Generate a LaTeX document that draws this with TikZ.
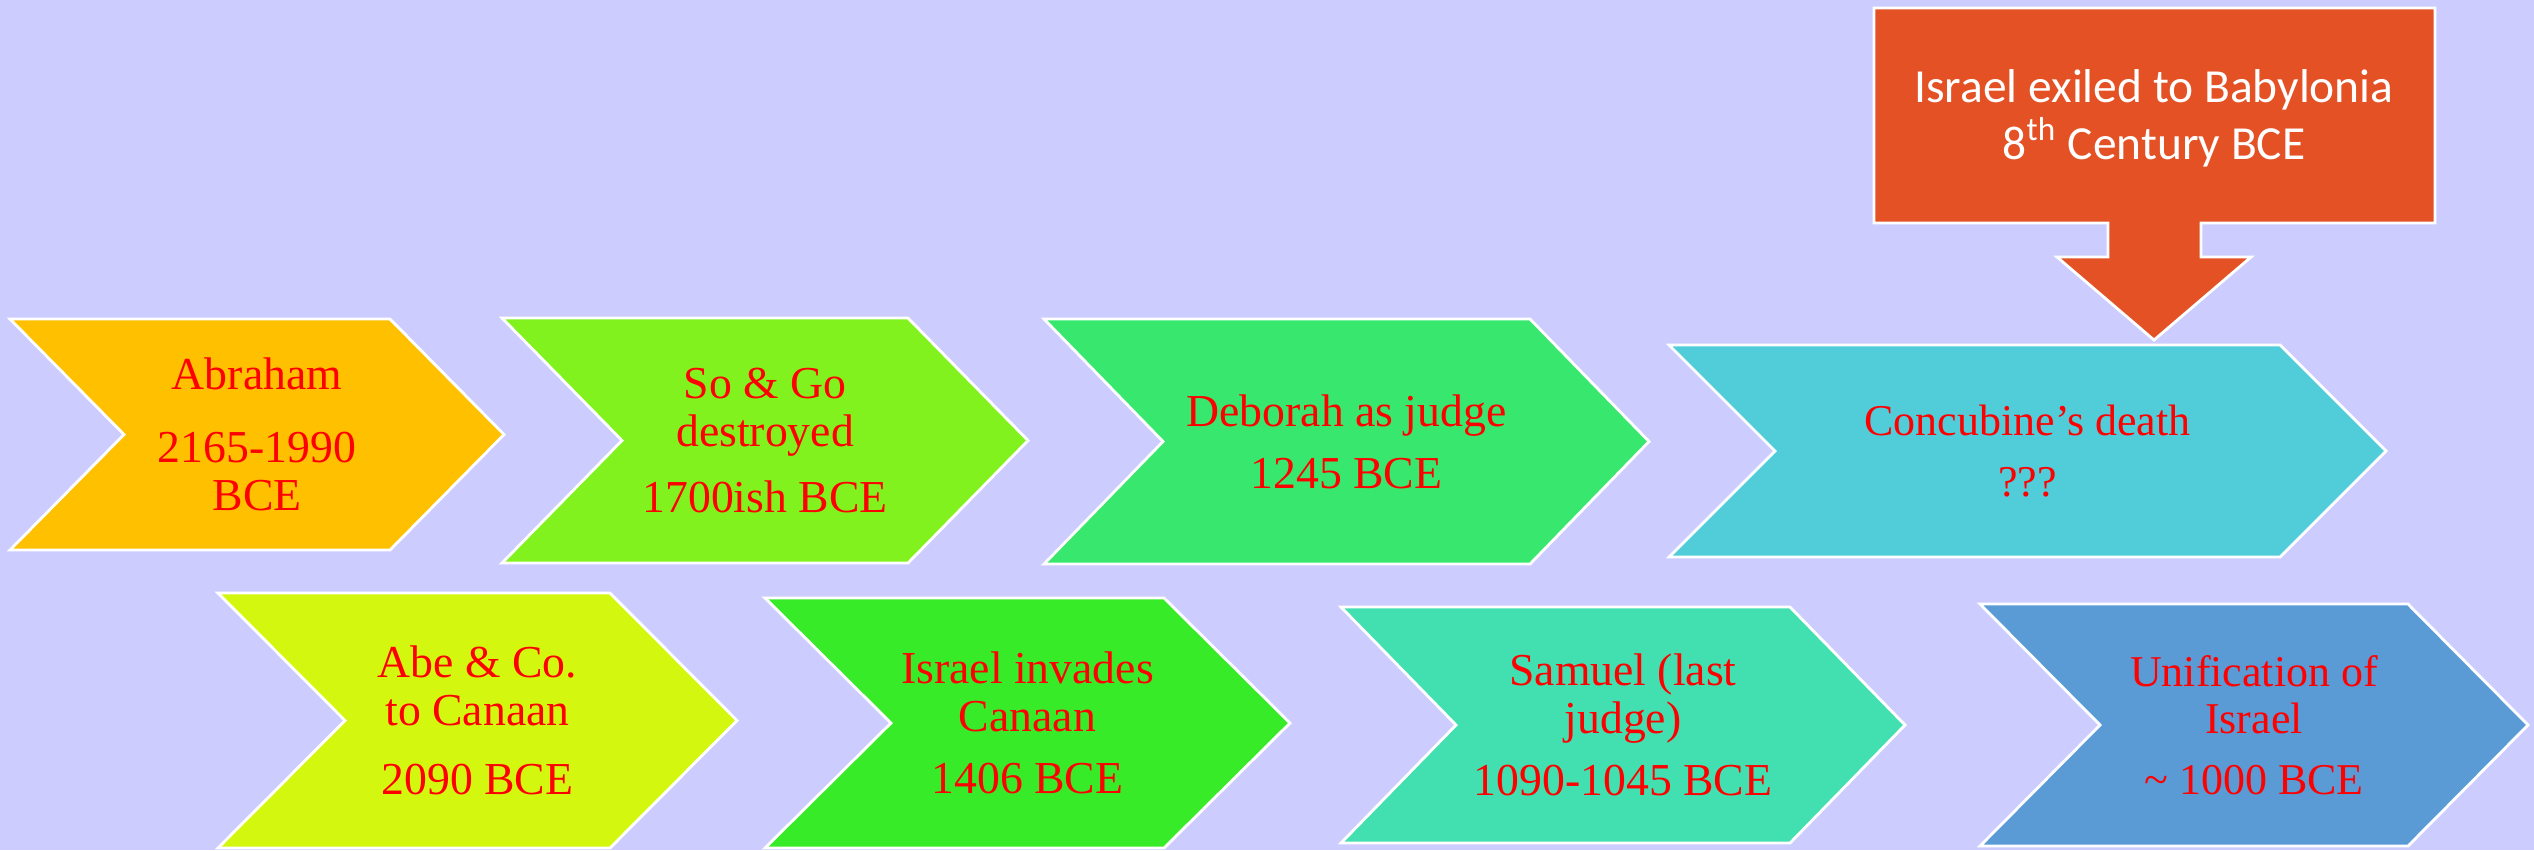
\documentclass[tikz,border=0pt]{standalone}
\usepackage{fontspec}
\setmainfont{Liberation Serif}
\newfontfamily\calloutfont{Carlito}
\usepackage{tikz}
\usetikzlibrary{calc}
\definecolor{tl-bg}{HTML}{CCCCFF}
\definecolor{tl-abraham}{HTML}{FFC000}
\definecolor{tl-sodom}{HTML}{82F21E}
\definecolor{tl-deborah}{HTML}{38E86E}
\definecolor{tl-concubine}{HTML}{50CDD9}
\definecolor{tl-abe}{HTML}{D4F70F}
\definecolor{tl-invade}{HTML}{38EB28}
\definecolor{tl-samuel}{HTML}{42E0B0}
\definecolor{tl-unify}{HTML}{5B9BD5}
\definecolor{tl-exile}{HTML}{E35125}
\tikzset{
  chevron/.style={draw=white, line width=0.8pt},
  tltext/.style={text=red, align=center, inner sep=0pt,
    font=\fontsize{13}{13.7}\selectfont},
  tlsmall/.style={tltext, font=\fontsize{12.5}{13.4}\selectfont}
}
% one chevron: name, colour, left, top, bottom, body end, tip, text style, text
\newcommand{\tlchevron}[9]{%
  \pgfmathsetmacro{\tlnotch}{#3+#7-#6}
  \pgfmathsetmacro{\tlmid}{(#4+#5)/2}
  \pgfmathsetmacro{\tlcx}{(\tlnotch+#6)/2}
  \path[fill=#2, chevron] (#3,#4) -- (#6,#4) -- (#7,\tlmid) -- (#6,#5)
    -- (#3,#5) -- (\tlnotch,\tlmid) -- cycle;
  \node[#8] (#1) at (\tlcx,\tlmid) {#9};
}

\begin{document}
\begin{tikzpicture}[x=0.01cm, y=-0.01cm]
    \fill[tl-bg] (0,0) rectangle (2534,850);
    \useasboundingbox (0,0) rectangle (2534,850);
    % top row
    \tlchevron{abraham}{tl-abraham}{10}{319}{550}{390}{504}{tltext}
      {Abraham\\[7pt]2165-1990\\BCE}
    \tlchevron{sodom}{tl-sodom}{502}{318}{563}{908}{1028}{tltext}
      {So \& Go\\destroyed\\[5pt]1700ish BCE}
    \tlchevron{deborah}{tl-deborah}{1044}{319}{564}{1530}{1649}{tltext}
      {Deborah as judge\\[4pt]1245 BCE}
    \tlchevron{concubine}{tl-concubine}{1669}{345}{557}{2280}{2386}{tlsmall}
      {Concubine’s death\\[4pt]???}
    % bottom row
    \tlchevron{abe}{tl-abe}{218}{593}{848}{610}{737}{tltext}
      {Abe \& Co.\\to Canaan\\[6pt]2090 BCE}
    \tlchevron{invade}{tl-invade}{765}{598}{848}{1164}{1290}{tltext}
      {Israel invades\\Canaan\\[4pt]1406 BCE}
    \tlchevron{samuel}{tl-samuel}{1341}{607}{843}{1790}{1905}{tltext}
      {Samuel (last\\judge)\\[4pt]1090-1045 BCE}
    \tlchevron{unify}{tl-unify}{1980}{604}{846}{2408}{2528}{tlsmall}
      {Unification of\\Israel\\[4pt]\textasciitilde{} 1000 BCE}
    % callout pointing at the concubine
    \path[fill=tl-exile, chevron] (1874,8) -- (2435,8) -- (2435,223)
      -- (2201,223) -- (2201,257) -- (2251,257) -- (2154,340)
      -- (2057,257) -- (2108,257) -- (2108,223) -- (1874,223) -- cycle;
    \node[text=white, align=center, inner sep=0pt,
      font=\calloutfont\fontsize{13.5}{16.2}\selectfont] (exile) at (2154,118)
      {Israel exiled to Babylonia\\8\textsuperscript{th} Century BCE};
\end{tikzpicture}
\end{document}
